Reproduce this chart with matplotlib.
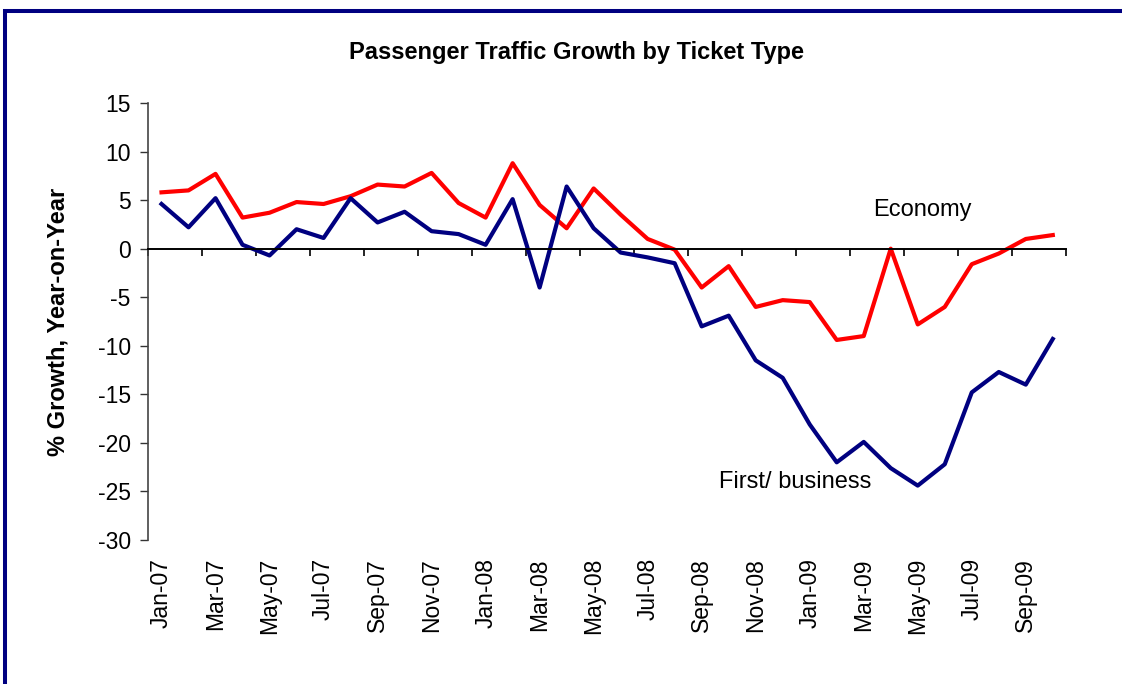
import matplotlib
matplotlib.use('Agg')
import matplotlib.pyplot as plt
from matplotlib.patches import Rectangle
import numpy as np

months = ['Jan-07', 'Feb-07', 'Mar-07', 'Apr-07', 'May-07', 'Jun-07', 'Jul-07', 'Aug-07',
          'Sep-07', 'Oct-07', 'Nov-07', 'Dec-07', 'Jan-08', 'Feb-08', 'Mar-08', 'Apr-08',
          'May-08', 'Jun-08', 'Jul-08', 'Aug-08', 'Sep-08', 'Oct-08', 'Nov-08', 'Dec-08',
          'Jan-09', 'Feb-09', 'Mar-09', 'Apr-09', 'May-09', 'Jun-09', 'Jul-09', 'Aug-09',
          'Sep-09', 'Oct-09']
economy = [5.8, 6.0, 7.7, 3.2, 3.7, 4.8, 4.6, 5.4, 6.6, 6.4, 7.8, 4.7, 3.2, 8.8, 4.5, 2.1,
           6.2, 3.5, 1.0, -0.1, -4.0, -1.8, -6.0, -5.3, -5.5, -9.4, -9.0, 0.0, -7.8, -6.0,
           -1.6, -0.5, 1.0, 1.4]
first_business = [4.6, 2.2, 5.2, 0.4, -0.7, 2.0, 1.1, 5.2, 2.7, 3.8, 1.8, 1.5, 0.4, 5.1,
                  -4.0, 6.4, 2.1, -0.4, -0.9, -1.5, -8.0, -6.9, -11.5, -13.3, -18.1, -22.0,
                  -19.9, -22.6, -24.4, -22.2, -14.8, -12.7, -14.0, -9.3]
yticks = [-30, -25, -20, -15, -10, -5, 0, 5, 10, 15]

plt.rcParams['font.family'] = ['Liberation Sans', 'DejaVu Sans']
plt.rcParams['axes.unicode_minus'] = False

W, H = 1122, 684
fig = plt.figure(figsize=(W / 100, H / 100), dpi=100)
fig.patch.set_facecolor('white')

# navy frame (only top and left edges visible)
fig.patches.append(Rectangle((4.75 / W, -0.2), 1.5, 1.2 - 11.2 / H, transform=fig.transFigure,
                             fill=False, edgecolor='#000080', linewidth=2.9, clip_on=False))

ax = fig.add_axes([148 / W, 1 - 540 / H, (1066.3 - 148) / W, (540 - 103) / H])
x = np.arange(len(months))
ax.plot(x, economy, color='#FF0000', lw=3.0)
ax.plot(x, first_business, color='#000080', lw=3.0)

ax.set_xlim(-0.5, len(months) - 0.5)
ax.set_ylim(-30, 15)
ax.set_yticks(yticks)
ax.tick_params(axis='y', direction='out', length=5.5, width=1.0, pad=7, labelsize=16.5,
               color='#333333')

for s in ['top', 'right']:
    ax.spines[s].set_visible(False)
ax.spines['left'].set_color('#444444')
ax.spines['left'].set_linewidth(1.2)
ax.spines['bottom'].set_position(('data', 0))
ax.spines['bottom'].set_linewidth(1.4)
ax.spines['bottom'].set_color('black')

ax.set_xticks(np.arange(-0.5, len(months), 2))
ax.tick_params(axis='x', direction='out', length=5, width=1.2, labelbottom=False, color='black')

sec = ax.secondary_xaxis(0)
sec.set_xticks(x[::2], labels=months[::2], rotation=90, fontsize=16.5)
sec.tick_params(length=0, pad=13)
sec.spines['bottom'].set_visible(False)

ax.set_ylabel('% Growth, Year-on-Year', fontsize=17, fontweight='bold', va='center')
ax.yaxis.set_label_coords((58 - 148) / (1066.3 - 148), 0.5)

fig.text(576.5 / W, 1 - 52 / H, 'Passenger Traffic Growth by Ticket Type', fontsize=17,
         fontweight='bold', ha='center', va='center')

ax.text(28.17, 3.96, 'Economy', fontsize=17, ha='center', va='center')
ax.text(23.48, -24.06, 'First/ business', fontsize=17, ha='center', va='center')

fig.savefig('out.png', dpi=100)
